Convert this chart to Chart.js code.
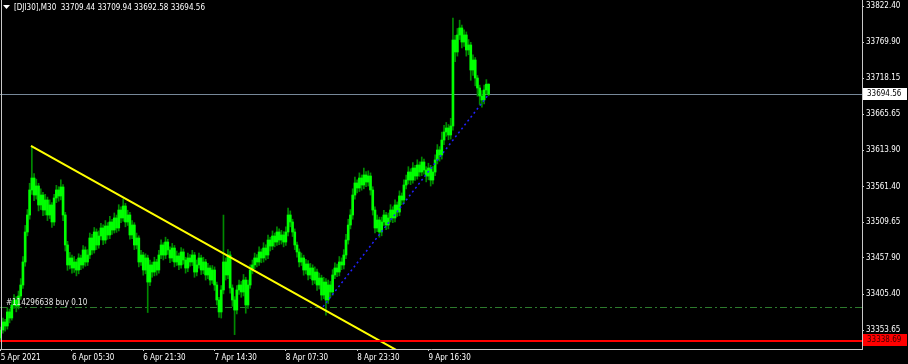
<!DOCTYPE html>
<html>
<head>
<meta charset="utf-8">
<script src="https://cdn.jsdelivr.net/npm/chart.js@4.4.1/dist/chart.umd.min.js"></script>
<style>
  html, body { margin: 0; padding: 0; background: #000; }
  #wrap { width: 908px; height: 364px; }
</style>
</head>
<body>
<div id="wrap"><canvas id="chart" width="908" height="364"></canvas></div>
<script>
// ---- data ----
const symbolTitle = "[DJI30],M30";
const lastBar = [33709.44, 33709.94, 33692.58, 33694.56]; // O H L C

const timeLabels = ["5 Apr 2021", "6 Apr 05:30", "6 Apr 21:30", "7 Apr 14:30", "8 Apr 07:30", "8 Apr 23:30", "9 Apr 16:30"];
const timeTickIdx = [0, 32, 64, 96, 128, 160, 192];
const priceTicks = [33822.40, 33769.90, 33718.15, 33665.65, 33613.90, 33561.40, 33509.65, 33457.90, 33405.40, 33353.65];

const firstOpen = 33342.1;
const closes = [
  33353.7, 33365.3, 33359.5, 33379.8, 33371.1, 33389.9, 33397.1, 33388.4, 33402.9, 33418.8,
  33452.1, 33495.5, 33520.1, 33556.3, 33573.6, 33549.0, 33562.1, 33534.6, 33549.0, 33527.3,
  33541.8, 33520.1, 33534.6, 33510.0, 33544.7, 33556.3, 33547.6, 33560.6, 33520.1, 33476.7,
  33447.8, 33457.9, 33443.4, 33452.1, 33440.5, 33457.9, 33447.8, 33469.5, 33452.1, 33462.2,
  33486.8, 33469.5, 33495.5, 33476.7, 33489.7, 33501.3, 33483.9, 33504.2, 33491.2, 33510.0,
  33498.4, 33515.8, 33501.3, 33527.3, 33515.8, 33533.1, 33510.0, 33520.1, 33491.2, 33505.6,
  33476.7, 33486.8, 33452.1, 33462.2, 33440.5, 33457.9, 33423.1, 33447.8, 33437.6, 33452.1,
  33440.5, 33462.2, 33476.7, 33462.2, 33481.0, 33469.5, 33457.9, 33472.3, 33452.1, 33460.8,
  33447.8, 33466.6, 33455.0, 33443.4, 33457.9, 33452.1, 33462.2, 33437.6, 33447.8, 33457.9,
  33440.5, 33452.1, 33433.3, 33443.4, 33426.0, 33440.5, 33418.8, 33397.1, 33379.8, 33411.6,
  33452.1, 33433.3, 33462.2, 33414.5, 33397.1, 33382.6, 33411.6, 33418.8, 33408.7, 33426.0,
  33389.9, 33418.8, 33440.5, 33447.8, 33457.9, 33452.1, 33466.6, 33457.9, 33472.3, 33462.2,
  33483.9, 33475.2, 33489.7, 33481.0, 33495.5, 33483.9, 33491.2, 33481.0, 33495.5, 33520.1,
  33510.0, 33495.5, 33476.7, 33466.6, 33452.1, 33457.9, 33440.5, 33449.2, 33433.3, 33443.4,
  33426.0, 33437.6, 33418.8, 33428.9, 33404.3, 33423.1, 33397.1, 33418.8, 33408.7, 33433.3,
  33443.4, 33437.6, 33452.1, 33447.8, 33462.2, 33483.9, 33505.6, 33520.1, 33549.0, 33566.4,
  33559.2, 33573.6, 33563.5, 33578.0, 33567.8, 33576.5, 33556.3, 33527.3, 33501.3, 33512.9,
  33495.5, 33510.0, 33520.1, 33505.6, 33515.8, 33527.3, 33515.8, 33534.6, 33524.4, 33547.6,
  33541.8, 33563.5, 33570.7, 33582.3, 33570.7, 33588.1, 33576.5, 33592.4, 33582.3, 33596.8,
  33585.2, 33576.5, 33588.1, 33570.7, 33582.3, 33599.7, 33614.2, 33606.9, 33628.6, 33640.2,
  33646.0, 33635.9, 33648.9, 33773.3, 33756.0, 33780.6, 33790.7, 33770.4, 33780.6, 33758.9,
  33766.1, 33729.9, 33744.4, 33718.3, 33703.9, 33692.3, 33686.5, 33701.0, 33709.4, 33694.56
];
const highs = [
  33358, 33371, 33369, 33386, 33384, 33396, 33405, 33402, 33410, 33428,
  33460, 33505, 33528, 33566, 33620, 33580, 33572, 33566, 33558, 33553,
  33550, 33546, 33542, 33538, 33550, 33563, 33561, 33571, 33564, 33524,
  33482, 33466, 33462, 33460, 33456, 33464, 33462, 33476, 33474, 33470,
  33494, 33492, 33502, 33500, 33497, 33508, 33506, 33512, 33509, 33518,
  33514, 33523, 33520, 33535, 33532, 33543, 33537, 33527, 33524, 33512,
  33509, 33494, 33490, 33469, 33466, 33464, 33462, 33455, 33452, 33459,
  33456, 33469, 33484, 33480, 33488, 33485, 33474, 33479, 33476, 33468,
  33465, 33473, 33471, 33459, 33465, 33463, 33469, 33466, 33455, 33465,
  33462, 33459, 33456, 33450, 33447, 33447, 33445, 33423, 33401, 33418,
  33520, 33458, 33470, 33467, 33419, 33402, 33418, 33426, 33424, 33434,
  33430, 33426, 33448, 33455, 33465, 33463, 33474, 33471, 33480, 33477,
  33491, 33488, 33497, 33494, 33503, 33500, 33498, 33496, 33503, 33530,
  33526, 33514, 33500, 33481, 33471, 33465, 33462, 33456, 33454, 33450,
  33448, 33445, 33442, 33436, 33433, 33430, 33428, 33426, 33424, 33441,
  33451, 33449, 33460, 33458, 33470, 33492, 33514, 33528, 33558, 33575,
  33571, 33581, 33578, 33588, 33583, 33584, 33581, 33561, 33532, 33520,
  33517, 33517, 33527, 33524, 33523, 33535, 33532, 33542, 33539, 33555,
  33552, 33571, 33578, 33590, 33587, 33596, 33592, 33600, 33597, 33604,
  33601, 33590, 33595, 33592, 33590, 33607, 33622, 33619, 33640, 33650,
  33654, 33651, 33660, 33805, 33780, 33790, 33802, 33795, 33788, 33785,
  33774, 33770, 33752, 33748, 33722, 33708, 33700, 33708, 33716, 33709.94
];
const lows = [
  33338, 33349, 33352, 33355, 33364, 33368, 33385, 33380, 33384, 33398,
  33414, 33446, 33490, 33514, 33550, 33541, 33543, 33526, 33528, 33519,
  33520, 33512, 33515, 33502, 33505, 33538, 33540, 33542, 33512, 33468,
  33440, 33442, 33436, 33437, 33432, 33435, 33441, 33443, 33446, 33447,
  33457, 33463, 33465, 33470, 33472, 33484, 33477, 33479, 33485, 33486,
  33492, 33494, 33495, 33497, 33509, 33511, 33503, 33505, 33485, 33486,
  33470, 33471, 33445, 33447, 33433, 33435, 33379, 33418, 33430, 33432,
  33433, 33436, 33457, 33455, 33457, 33463, 33451, 33453, 33445, 33447,
  33441, 33443, 33449, 33436, 33438, 33446, 33447, 33430, 33432, 33443,
  33434, 33435, 33426, 33428, 33419, 33421, 33411, 33390, 33372, 33371,
  33406, 33426, 33428, 33407, 33388, 33347, 33377, 33405, 33401, 33403,
  33378, 33385, 33414, 33435, 33442, 33445, 33447, 33451, 33452, 33455,
  33457, 33468, 33470, 33474, 33476, 33477, 33478, 33474, 33476, 33490,
  33503, 33489, 33470, 33459, 33445, 33447, 33433, 33435, 33426, 33428,
  33419, 33421, 33411, 33413, 33397, 33399, 33375, 33392, 33401, 33404,
  33428, 33431, 33432, 33441, 33442, 33457, 33478, 33500, 33514, 33543,
  33552, 33554, 33556, 33558, 33561, 33562, 33549, 33520, 33494, 33496,
  33488, 33490, 33505, 33499, 33500, 33510, 33509, 33510, 33518, 33519,
  33535, 33537, 33558, 33565, 33564, 33566, 33570, 33572, 33576, 33577,
  33579, 33568, 33571, 33562, 33565, 33577, 33594, 33598, 33601, 33622,
  33634, 33629, 33630, 33643, 33742, 33750, 33774, 33762, 33764, 33750,
  33752, 33715, 33722, 33707, 33692, 33680, 33676, 33681, 33695, 33692.58
];

const bidPrice = 33694.56;
const stopLevel = 33338.69;
const orderPrice = 33387.4;
const orderText = "#114296638 buy 0.10";

// trendline anchors (bar index, price) and the trade line
const trendX = [13.6, 190];
const trendY = [33620.0, 33302.4];
const tradeX = [144.7, 219];
const tradeY = [33387.4, 33694.56];

// ---- build chart ----
const FAMILY = '"DejaVu Sans Condensed", "Liberation Sans", sans-serif';
const FONT = "8px " + FAMILY;

const opens = closes.map((c, i) => (i === 0 ? firstOpen : closes[i - 1]));
const wickData = closes.map((c, i) => ({ x: i, y: [lows[i], highs[i]] }));
const bodyData = closes.map((c, i) => ({ x: i, y: [opens[i], closes[i]] }));

function priceBox(ctx, area, y, price, bg, fg) {
  const py = Math.round(y.getPixelForValue(price));
  ctx.fillStyle = bg;
  ctx.fillRect(area.right + 1, py - 6, 44, 12);
  ctx.fillStyle = fg;
  ctx.textBaseline = "middle";
  ctx.textAlign = "left";
  ctx.fillText(price.toFixed(2), area.right + 5, py);
}

const terminalPlugin = {
  id: "terminal",
  beforeDatasetsDraw(chart) {
    const { ctx, chartArea: a, scales: { y } } = chart;
    ctx.save();
    let py = Math.round(y.getPixelForValue(bidPrice)) + 0.5;
    ctx.strokeStyle = "#778899";
    ctx.lineWidth = 1;
    ctx.beginPath(); ctx.moveTo(a.left, py); ctx.lineTo(a.right, py); ctx.stroke();

    py = Math.round(y.getPixelForValue(orderPrice)) + 0.5;
    ctx.strokeStyle = "#2c7a2c";
    ctx.setLineDash([7, 3, 2, 3]);
    ctx.beginPath(); ctx.moveTo(a.left, py); ctx.lineTo(a.right, py); ctx.stroke();
    ctx.restore();
  },
  afterDatasetsDraw(chart) {
    const { ctx, chartArea: a, scales: { y } } = chart;
    ctx.save();
    const py = Math.round(y.getPixelForValue(stopLevel));
    ctx.fillStyle = "#ff0000";
    ctx.fillRect(a.left, py, a.right - a.left, 2);

    ctx.font = FONT;
    ctx.fillStyle = "#e8e8e8";
    ctx.textBaseline = "middle";
    ctx.fillText(orderText, 6, Math.round(y.getPixelForValue(orderPrice)) - 4);

    // frame: left edge
    ctx.fillStyle = "#c8c8c8";
    ctx.fillRect(1, a.top, 1, a.bottom - a.top);
    ctx.restore();
  },
  afterDraw(chart) {
    const { ctx, chartArea: a, scales: { y } } = chart;
    ctx.save();
    ctx.font = FONT;
    priceBox(ctx, a, y, bidPrice, "#ffffff", "#000000");
    priceBox(ctx, a, y, stopLevel, "#ff0000", "#3a0000");

    // header
    ctx.fillStyle = "#ffffff";
    ctx.beginPath(); ctx.moveTo(3, 5); ctx.lineTo(10, 5); ctx.lineTo(6.5, 9); ctx.closePath(); ctx.fill();
    ctx.textBaseline = "middle";
    ctx.textAlign = "left";
    ctx.fillText(symbolTitle + "  " + lastBar.map(v => v.toFixed(2)).join(" "), 14, 8);
    ctx.restore();
  }
};

new Chart(document.getElementById("chart"), {
  type: "bar",
  data: {
    datasets: [
      { type: "line", data: trendX.map((x, i) => ({ x, y: trendY[i] })), borderColor: "#ffff00", borderWidth: 2, pointRadius: 0, clip: 0, order: 0 },
      { type: "line", data: tradeX.map((x, i) => ({ x, y: tradeY[i] })), borderColor: "#2222ff", borderWidth: 1.5, borderDash: [2, 3], pointRadius: 0, clip: 0, order: 1 },
      { data: bodyData, backgroundColor: "#00ff00", barThickness: 2, minBarLength: 1, grouped: false, borderWidth: 0, order: 2 },
      { data: wickData, backgroundColor: "#008a00", barThickness: 1, grouped: false, borderWidth: 0, order: 3 }
    ]
  },
  options: {
    responsive: false,
    animation: false,
    events: [],
    layout: { padding: 0 },
    plugins: { legend: { display: false }, tooltip: { enabled: false } },
    scales: {
      x: {
        type: "linear",
        offset: false,
        bounds: "data",
        min: -0.3,
        max: 386.6,
        afterBuildTicks: s => { s.ticks = timeTickIdx.map(v => ({ value: v })); },
        afterFit: s => { s.height = 15; s.paddingLeft = 0; s.paddingRight = 0; },
        grid: { offset: false, drawOnChartArea: false, drawTicks: true, tickLength: 2, color: "#c8c8c8" },
        border: { display: true, color: "#c8c8c8" },
        ticks: {
          autoSkip: false, maxRotation: 0, align: "start", padding: 2, color: "#ffffff",
          font: { family: FAMILY, size: 8 },
          callback: v => timeLabels[timeTickIdx.indexOf(v)] || ""
        }
      },
      y: {
        position: "right",
        bounds: "data",
        min: 33326.2,
        max: 33831.2,
        afterBuildTicks: s => { s.ticks = priceTicks.map(v => ({ value: v })); },
        afterFit: s => { s.width = 46; s.paddingTop = 0; s.paddingBottom = 0; },
        grid: { drawOnChartArea: false, drawTicks: true, tickLength: 2, color: "#c8c8c8" },
        border: { display: true, color: "#c8c8c8" },
        ticks: {
          autoSkip: false, padding: 2, color: "#ffffff",
          font: { family: FAMILY, size: 8 },
          callback: v => v.toFixed(2)
        }
      }
    }
  },
  plugins: [terminalPlugin]
});
</script>
</body>
</html>
